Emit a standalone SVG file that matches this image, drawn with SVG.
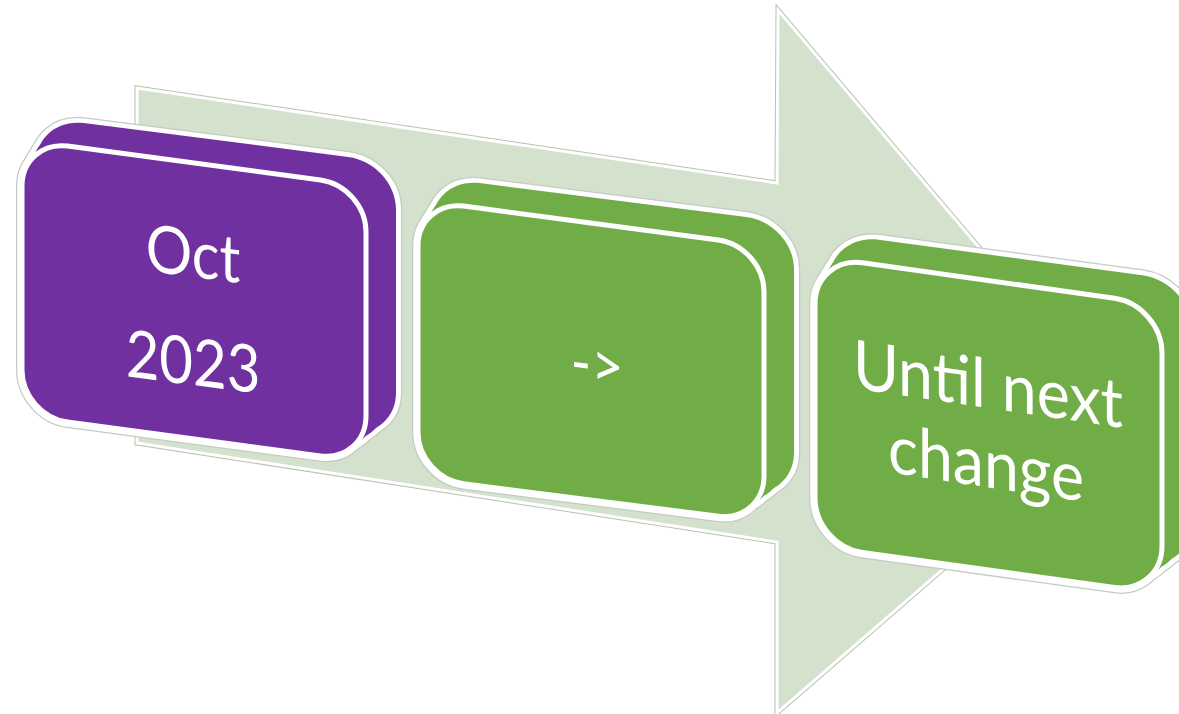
<svg xmlns="http://www.w3.org/2000/svg" width="1179" height="714" viewBox="0 0 1179 714">
<style>
.halo{fill:none;stroke:#c5cbc2;stroke-width:12;stroke-linejoin:round}
.rim{fill:none;stroke:#ffffff;stroke-width:9.5;stroke-linejoin:round}
.purple{fill:#7030a0}
.green{fill:#70ad47}
.face{stroke:#ffffff;stroke-width:5}
.lbl{font-family:Lato,"Open Sans",sans-serif;fill:#ffffff;text-anchor:middle}
.arrow-halo{fill:none;stroke:#b9c2b5;stroke-width:5;stroke-linejoin:miter}
.arrow-body{fill:#d4e1cd;stroke:#ffffff;stroke-width:3;stroke-linejoin:miter}
</style>
<defs>
<path id="f1" d="M22,186 C22,160.6 42.4,142.7 67.6,146.1 L320.4,179.9 C345.6,183.3 366,206.6 366,232 L366,416 C366,441.4 345.6,459.3 320.4,455.9 L67.6,422.1 C42.4,418.7 22,395.4 22,370 Z"/>
<path id="f2" d="M418,246 C418,220.6 438.4,202.7 463.6,206.1 L718.4,239.9 C743.6,243.3 764,266.6 764,292 L764,476 C764,501.4 743.6,519.4 718.4,516.2 L463.6,483.8 C438.4,480.6 418,457.4 418,432 Z"/>
<path id="f3" d="M815,304 C815,277.5 836.3,259 862.5,262.7 L1114.5,298.3 C1140.7,302 1162,326.5 1162,353 L1162,546 C1162,572.5 1140.7,591 1114.5,587.4 L862.5,552.6 C836.3,549 815,524.5 815,498 Z"/>
</defs>

<g id="connectors">
  <g id="connector-arrow">
    <path class="arrow-halo" d="M137,88 L777,183 L778,10 L1121,415 L777,713 L777,542 L137,443 Z"/>
    <path class="arrow-body" d="M137,88 L777,183 L778,10 L1121,415 L777,713 L777,542 L137,443 Z"/>
  </g>
</g>

<g id="node-oct-2023">
  <g class="halo">
    <use href="#f1"/>
    <use href="#f1" transform="matrix(1.0155,0,0,1,4.326,-7.667)"/>
    <use href="#f1" transform="matrix(1.031,0,0,1,8.651,-15.333)"/>
    <use href="#f1" transform="matrix(1.0465,0,0,1,12.977,-23)"/>
  </g>
  <g class="rim">
    <use href="#f1"/>
    <use href="#f1" transform="matrix(1.0155,0,0,1,4.326,-7.667)"/>
    <use href="#f1" transform="matrix(1.031,0,0,1,8.651,-15.333)"/>
    <use href="#f1" transform="matrix(1.0465,0,0,1,12.977,-23)"/>
  </g>
  <g class="purple">
    <use href="#f1" transform="matrix(1.0155,0,0,1,4.326,-7.667)"/>
    <use href="#f1" transform="matrix(1.031,0,0,1,8.651,-15.333)"/>
    <use href="#f1" transform="matrix(1.0465,0,0,1,12.977,-23)"/>
  </g>
  <use href="#f1" class="purple face"/>
  <text class="lbl" font-size="66" transform="matrix(0.88,0.114,0,1,193,277)">Oct</text>
  <text class="lbl" font-size="66" transform="matrix(0.88,0.114,0,1,193,385)">2023</text>
</g>

<g id="node-arrow">
  <g class="halo">
    <use href="#f2"/>
    <use href="#f2" transform="matrix(1.01541,0,0,1,-1.776,-7.667)"/>
    <use href="#f2" transform="matrix(1.03083,0,0,1,-3.553,-15.333)"/>
    <use href="#f2" transform="matrix(1.04624,0,0,1,-5.329,-23)"/>
  </g>
  <g class="rim">
    <use href="#f2"/>
    <use href="#f2" transform="matrix(1.01541,0,0,1,-1.776,-7.667)"/>
    <use href="#f2" transform="matrix(1.03083,0,0,1,-3.553,-15.333)"/>
    <use href="#f2" transform="matrix(1.04624,0,0,1,-5.329,-23)"/>
  </g>
  <g class="green">
    <use href="#f2" transform="matrix(1.01541,0,0,1,-1.776,-7.667)"/>
    <use href="#f2" transform="matrix(1.03083,0,0,1,-3.553,-15.333)"/>
    <use href="#f2" transform="matrix(1.04624,0,0,1,-5.329,-23)"/>
  </g>
  <use href="#f2" class="green face"/>
  <text class="lbl" font-size="62" transform="matrix(0.9,0.117,0,1,597,386)">-&gt;</text>
</g>

<g id="node-until-next-change">
  <g class="halo">
    <use href="#f3"/>
    <use href="#f3" transform="matrix(1.01537,0,0,1,-7.86,-7.667)"/>
    <use href="#f3" transform="matrix(1.03074,0,0,1,-15.719,-15.333)"/>
    <use href="#f3" transform="matrix(1.04611,0,0,1,-23.579,-23)"/>
  </g>
  <g class="rim">
    <use href="#f3"/>
    <use href="#f3" transform="matrix(1.01537,0,0,1,-7.86,-7.667)"/>
    <use href="#f3" transform="matrix(1.03074,0,0,1,-15.719,-15.333)"/>
    <use href="#f3" transform="matrix(1.04611,0,0,1,-23.579,-23)"/>
  </g>
  <g class="green">
    <use href="#f3" transform="matrix(1.01537,0,0,1,-7.86,-7.667)"/>
    <use href="#f3" transform="matrix(1.03074,0,0,1,-15.719,-15.333)"/>
    <use href="#f3" transform="matrix(1.04611,0,0,1,-23.579,-23)"/>
  </g>
  <use href="#f3" class="green face"/>
  <text class="lbl" font-size="68" transform="matrix(0.92,0.136,0,1,988,408)">Until next</text>
  <text class="lbl" font-size="68" transform="matrix(0.92,0.14,0,1,986,487)">change</text>
</g>
</svg>
